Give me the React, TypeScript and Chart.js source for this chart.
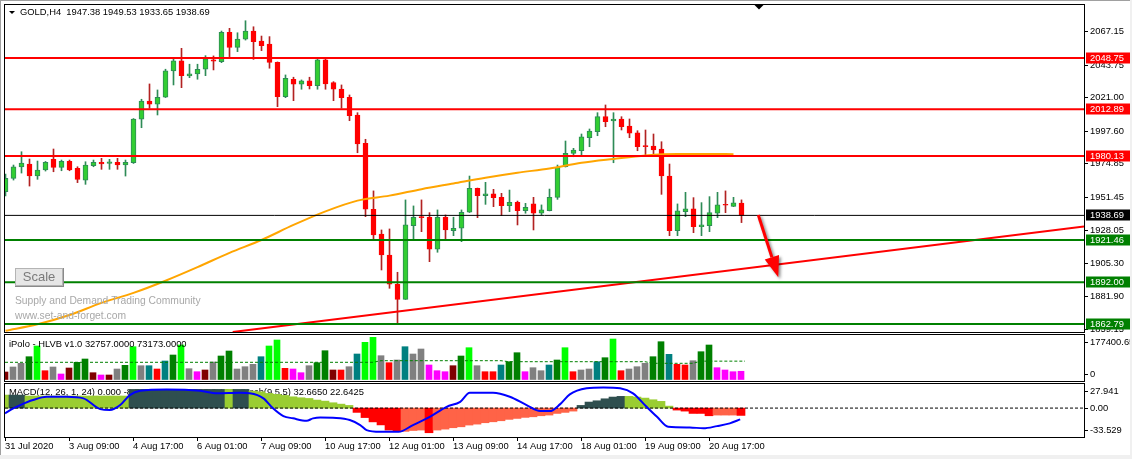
import { useEffect, useRef } from 'react';
import { Chart, registerables } from 'chart.js';

Chart.register(...registerables);

const FONT = '"Liberation Sans", Arial, sans-serif';
const AXIS_FONT = { family: FONT, size: 9.4 };

// ---------------- data ----------------
const symbolTitle = 'GOLD,H4  1947.38 1949.53 1933.65 1938.69';
const volumeTitle = 'iPolo - HLVB v1.0 32757.0000 73173.0000';
const macdTitle = 'MACD(12, 26, 1, 24) 0.000 -8.503 -8.503 -8.503 3.120  Stoch(9,5,5) 32.6650 22.6425';
const watermark1 = 'Supply and Demand Trading Community';
const watermark2 = 'www.set-and-forget.com';

const timeLabels = ['31 Jul 2020', '3 Aug 09:00', '4 Aug 17:00', '6 Aug 01:00', '7 Aug 09:00', '10 Aug 17:00',
  '12 Aug 01:00', '13 Aug 09:00', '14 Aug 17:00', '18 Aug 01:00', '19 Aug 09:00', '20 Aug 17:00'];
const barsPerTimeLabel = 8;

const open = [1955.3, 1964.6, 1972.5, 1974.6, 1966.2, 1970.4, 1977.9, 1972.3, 1976.5, 1971.6,
  1963.4, 1973.4, 1975.8, 1975.1, 1975.8, 1973.9, 1975.5, 2005.9, 2018.7, 2016.4,
  2021.3, 2039.7, 2046.7, 2036.2, 2037.6, 2040.9, 2047.5, 2046.2, 2066.7, 2056.2,
  2062.0, 2067.6, 2060.6, 2058.5, 2045.7, 2021.7, 2033.9, 2030.4, 2032.7, 2029.4,
  2047.4, 2031.5, 2027.1, 2021.3, 2008.9, 1989.1, 1943.0, 1925.7, 1911.0, 1890.5,
  1880.0, 1931.5, 1937.5, 1937.4, 1915.0, 1937.4, 1928.0, 1929.7, 1940.9, 1957.6,
  1952.5, 1953.7, 1951.3, 1945.5, 1947.8, 1942.0, 1946.7, 1940.2, 1942.0, 1951.3,
  1972.7, 1982.1, 1983.9, 1993.0, 1997.2, 2007.7, 2004.7, 2006.1, 2001.2, 1996.5,
  1987.2, 1987.2, 1985.1, 1966.2, 1928.0, 1941.3, 1943.2, 1930.8, 1931.5, 1940.2,
  1946.2, 1945.0, 1947.38];
const high = [1967.6, 1973.9, 1983.2, 1978.1, 1976.7, 1976.4, 1985.1, 1977.4, 1977.4, 1972.7,
  1976.2, 1977.4, 1978.6, 1977.9, 1978.6, 1977.4, 2006.4, 2019.9, 2030.6, 2026.4,
  2040.9, 2047.8, 2055.5, 2044.4, 2044.4, 2050.4, 2050.2, 2067.6, 2069.5, 2066.4,
  2074.8, 2070.6, 2064.1, 2063.7, 2046.0, 2036.9, 2035.3, 2033.4, 2035.3, 2048.1,
  2048.5, 2032.2, 2029.9, 2022.9, 2010.5, 1991.9, 1955.8, 1928.5, 1929.2, 1898.9,
  1949.5, 1945.3, 1949.5, 1940.6, 1942.5, 1939.0, 1937.4, 1942.5, 1966.2, 1957.8,
  1961.8, 1956.9, 1954.1, 1956.4, 1948.7, 1947.1, 1951.3, 1946.0, 1957.1, 1973.9,
  1990.7, 1985.6, 1995.6, 1999.1, 2010.5, 2015.9, 2010.5, 2007.7, 2006.1, 1997.9,
  1998.4, 1995.6, 1990.2, 1974.6, 1946.7, 1954.8, 1951.1, 1947.6, 1951.8, 1954.8,
  1955.8, 1951.3, 1949.53];
const low = [1952.3, 1963.4, 1968.3, 1959.2, 1963.9, 1969.7, 1969.2, 1969.9, 1969.9, 1961.6,
  1960.4, 1972.7, 1970.9, 1970.9, 1970.9, 1966.2, 1975.0, 2000.0, 2013.6, 2008.9,
  2021.1, 2029.9, 2028.0, 2035.0, 2033.9, 2036.4, 2040.4, 2045.5, 2049.7, 2053.2,
  2061.3, 2047.8, 2053.9, 2041.6, 2014.7, 2021.0, 2018.9, 2026.9, 2027.1, 2026.9,
  2026.9, 2018.9, 2013.6, 2004.9, 1982.5, 1937.8, 1921.5, 1900.5, 1887.7, 1863.2,
  1879.9, 1922.2, 1927.3, 1906.3, 1912.9, 1922.2, 1924.5, 1920.3, 1940.7, 1937.1,
  1946.4, 1944.8, 1938.5, 1941.3, 1932.0, 1940.2, 1928.5, 1939.0, 1941.8, 1949.9,
  1972.5, 1979.7, 1980.9, 1986.7, 1994.4, 2000.7, 1975.5, 1998.4, 1993.0, 1983.9,
  1980.9, 1981.6, 1953.4, 1924.5, 1924.5, 1937.8, 1926.6, 1924.5, 1927.3, 1937.1,
  1940.6, 1944.8, 1933.65];
const close = [1964.6, 1972.7, 1975.3, 1966.2, 1970.4, 1975.8, 1972.3, 1976.5, 1970.4, 1963.9,
  1973.9, 1975.8, 1974.6, 1976.2, 1973.9, 1975.8, 2006.1, 2018.7, 2016.4, 2021.3,
  2039.7, 2046.7, 2036.4, 2037.6, 2040.9, 2048.1, 2046.6, 2066.7, 2056.2, 2062.0,
  2067.6, 2060.2, 2057.4, 2045.7, 2021.7, 2034.6, 2030.4, 2032.7, 2029.4, 2047.4,
  2030.6, 2026.9, 2021.0, 2008.4, 1988.6, 1943.0, 1925.0, 1911.0, 1890.5, 1880.0,
  1932.0, 1937.4, 1937.1, 1915.0, 1937.4, 1928.5, 1929.7, 1940.9, 1957.6, 1952.5,
  1953.7, 1951.1, 1945.5, 1947.8, 1942.0, 1944.4, 1940.2, 1942.5, 1951.3, 1972.3,
  1982.1, 1984.4, 1993.7, 1997.7, 2007.7, 2004.2, 2006.1, 2000.7, 1996.1, 1986.7,
  1986.8, 1984.4, 1966.2, 1928.0, 1941.8, 1943.2, 1930.8, 1932.0, 1940.6, 1946.0,
  1945.8, 1947.4, 1938.69];

// moving average, read every 4 bars
const maBars = [0, 4, 8, 12, 16, 20, 24, 28, 32, 36, 40, 44, 48, 52, 56, 60, 64, 68, 72, 76, 80, 84, 88, 91];
const maValues = [1858.0, 1862.5, 1869.0, 1877.5, 1884.5, 1893.0, 1902.5, 1912.5, 1921.5, 1932.0, 1941.5, 1949.0,
  1952.5, 1957.0, 1961.0, 1965.0, 1968.5, 1971.5, 1975.5, 1978.2, 1980.6, 1981.6, 1981.6, 1981.5];

const priceTicks = [2067.15, 2043.75, 2021.0, 1997.6, 1974.85, 1951.45, 1928.05, 1905.3, 1881.9, 1859.15];
const resistanceLevels = [2048.75, 2012.89, 1980.13];
const supportLevels = [1921.46, 1892.0, 1862.79];
const bidPrice = 1938.69;
const trendBars = [28.4, 134.81];
const trendValues = [1857.14, 1930.85];
const arrowBars = [94.1, 96.6];
const arrowValues = [1938.96, 1895.4];

const volume = [29900, 49830, 64580, 90890, 133550, 35080, 49830, 21930, 45850, 68570,
  81720, 27110, 17940, 17940, 41860, 56610, 130760, 55010, 55010, 41860,
  73750, 97670, 137530, 43050, 31090, 37870, 69760, 93680, 113610, 41860,
  51030, 60590, 90890, 133550, 157470, 44650, 41860, 27110, 55010, 66970,
  114810, 37870, 37870, 51030, 101660, 148300, 168230, 94880, 66970, 77740,
  130760, 101660, 121590, 57800, 35080, 31090, 55010, 93680, 126770, 55010,
  31090, 31090, 57800, 70960, 106840, 31090, 47040, 35080, 57800, 77740,
  126770, 31090, 37870, 41860, 70960, 86910, 161450, 35080, 41860, 51030,
  64580, 90890, 150690, 100460, 60590, 57800, 74950, 110820, 137530, 47040,
  37870, 31090, 32757];
// volume class: g gray, G green, L lime, r red, m magenta, d maroon, t teal
const volumeClass = ('dggGLrgmdG' + 'GdmdgGLgtr' + 'tGLgmdgGGg' + 'ggtLLrmmgG' + 'GdrgtLLgrg' +
  'tggmmmdGLg' + 'rrtGGmggtG' + 'LrggtGLrgg' + 'gGGtrrgGGm' + 'mmm').split('');
const volumeAvgBars = [0, 46, 47, 62, 63, 80, 81, 86, 87, 92.5];
const volumeAvgValues = [68570, 68570, 74950, 74950, 70960, 70960, 64580, 64580, 73173, 73173];
const volumeMax = 177400.65;
const volumeAxisLabels = [{ value: 177400.65, text: '177400.65' }, { value: 0, text: '0' }];

const macdHist = [15.1, 15.1, 15.1, 14.0, 14.0, 14.0, 14.0, 14.0, 14.0, 14.0,
  14.0, 14.0, 14.0, 14.0, 14.0, 14.0, 21.7, 21.7, 21.7, 21.7,
  21.7, 21.7, 21.7, 21.7, 21.7, 21.7, 21.7, 21.7, 21.7, 21.7,
  21.7, 19.7, 18.9, 17.0, 15.9, 14.7, 13.1, 12.0, 11.2, 9.3,
  8.1, 6.2, 4.6, 3.1, -5.0, -11.0, -16.0, -19.5, -25.5, -26.7,
  -27.0, -26.0, -25.5, -28.6, -25.5, -24.4, -22.8, -21.7, -19.7, -18.6,
  -17.0, -15.9, -14.7, -13.1, -12.0, -10.8, -10.1, -8.9, -8.1, -6.2,
  -5.0, -3.5, 3.1, 7.0, 8.5, 10.8, 12.8, 13.6, 13.6, 12.8,
  11.6, 9.7, 7.8, 2.3, -2.3, -3.5, -6.2, -6.2, -8.9, -8.1,
  -8.1, -8.1, -8.5];
// histogram class: Y yellow-green, D dark slate, R red, T tomato
const macdClass = ('YDDYYYYYYY' + 'YYYYYYDDDD' + 'DDDDDDDDYD' + 'DYYYYYYYYY' + 'YYYYRRRRRR' +
  'TTTRTTTTTT' + 'TTTTTTTTTT' + 'TTDDDDDDYY' + 'YYYYRRRRRT' + 'TTR').split('');
const stochBars = [0, 1.04, 1.9, 3.5, 5.2, 7.7, 9.8, 11.9, 13.1, 14.4, 15.6, 16.9, 20.2, 24.4, 26.5, 29.4, 30.6,
  32.3, 33.5, 34.8, 36, 37.7, 38.5, 39.4, 41, 43.1, 44.4, 45.2, 46.9, 49.2, 51, 53.1, 55.2, 56.9, 58.1, 61,
  63.1, 65.2, 66.9, 68.1, 69.4, 70.6, 72.7, 74.8, 76.9, 78.5, 80.2, 81.5, 82.9, 85.6, 87.3, 89, 90.6, 91.9];
const stochValues = [-6.1, -0.3, 3.5, 9.3, 13.1, 13.1, 11.3, -1.2, -2.3, 3.5, 15.1, 20.1, 21.7, 20.1, 17.1, 17.7, 17.1,
  11.3, -0.3, -9.3, -11.9, -14.7, -11.9, -10.8, -11.3, -13.9, -19.7, -25.5, -27.5, -27.5, -19.7, -10.1, 1.5, 7.3, 17.7, 17.7,
  13.1, 3.5, -3.5, -3.5, 4.6, 15.9, 22.9, 24.0, 22.9, 17.1, 1.5, -10.1, -21.7, -22.4, -23.5, -20.9, -17.7, -13.1];
const macdMin = -33.529;
const macdMax = 27.941;
const macdAxisLabels = [{ value: 27.941, text: '27.941' }, { value: 0, text: '0.00' }, { value: -33.529, text: '-33.529' }];

// ---------------- styles ----------------
const BULL_FILL = '#32cd32';
const BULL_EDGE = '#2e8b57';
const BEAR_FILL = '#ff0000';
const BEAR_WICK = '#b22222';
const VOL_COLORS: Record<string, string> = {
  g: '#808080', G: '#008000', L: '#00ff00', r: '#ff0000', m: '#ff00ff', d: '#800000', t: '#008080',
};
const HIST_COLORS: Record<string, string> = { Y: '#9acd32', D: '#2f4f4f', R: '#ff0000', T: '#ff6347' };

const W = 1132;
const AXIS_W = 48;
const MAIN_X_MIN = -0.0625;
const SUB_X_MIN = 0;
const X_SPAN = 134.875;
const MAIN_Y_MIN = 1857.14;
const MAIN_Y_MAX = 2085.81;

const barIdx = open.map((_, i) => i);

const framePlugin = {
  id: 'frame',
  afterDraw(chart: any) {
    const { ctx, chartArea: a } = chart;
    ctx.save();
    ctx.strokeStyle = '#000';
    ctx.lineWidth = 1;
    ctx.strokeRect(a.left - 0.5, a.top - 0.5, a.right - a.left + 1, a.bottom - a.top + 1);
    ctx.restore();
  },
};

function edgeLabelsPlugin(labels: { value: number; text: string }[]) {
  return {
    id: 'edgeLabels',
    afterDraw(chart: any) {
      const { ctx, chartArea: a } = chart;
      const ys = chart.scales.y;
      ctx.save();
      ctx.font = `9.4px ${FONT}`;
      ctx.fillStyle = '#000';
      ctx.strokeStyle = '#000';
      ctx.lineWidth = 1;
      ctx.textBaseline = 'middle';
      labels.forEach((l) => {
        let y = ys.getPixelForValue(l.value);
        y = Math.min(Math.max(y, a.top + 6.7), a.bottom - 7);
        const ty = Math.round(y) + 0.5;
        ctx.beginPath();
        ctx.moveTo(a.right, ty);
        ctx.lineTo(a.right + 4, ty);
        ctx.stroke();
        ctx.fillText(l.text, a.right + 6, y + 0.5);
      });
      ctx.restore();
    },
  };
}

function titlePlugin(text: string, x: number, y: number, before: boolean) {
  const draw = (chart: any) => {
    const { ctx } = chart;
    ctx.save();
    ctx.font = `9.4px ${FONT}`;
    ctx.fillStyle = '#000';
    ctx.textBaseline = 'middle';
    ctx.fillText(text, x, y);
    ctx.restore();
  };
  return before ? { id: 'paneTitle', beforeDatasetsDraw: draw } : { id: 'paneTitle', afterDatasetsDraw: draw };
}

const mainDecorPlugin = {
  id: 'mainDecor',
  afterDatasetsDraw(chart: any) {
    const { ctx } = chart;
    const xs = chart.scales.x;
    const ys = chart.scales.y;
    // arrow
    const x0 = xs.getPixelForValue(arrowBars[0]);
    const y0 = ys.getPixelForValue(arrowValues[0]);
    const x1 = xs.getPixelForValue(arrowBars[1]);
    const y1 = ys.getPixelForValue(arrowValues[1]);
    const ang = Math.atan2(y1 - y0, x1 - x0);
    const headLen = 21;
    const headW = 7.5;
    const bx = x1 - headLen * Math.cos(ang);
    const by = y1 - headLen * Math.sin(ang);
    ctx.save();
    ctx.shadowColor = 'rgba(0,0,0,0.45)';
    ctx.shadowBlur = 3;
    ctx.shadowOffsetX = 2;
    ctx.shadowOffsetY = 2;
    ctx.strokeStyle = '#ff0000';
    ctx.fillStyle = '#ff0000';
    ctx.lineWidth = 3;
    ctx.beginPath();
    ctx.moveTo(x0, y0);
    ctx.lineTo(bx, by);
    ctx.stroke();
    ctx.beginPath();
    ctx.moveTo(x1, y1);
    ctx.lineTo(bx + headW * Math.sin(ang), by - headW * Math.cos(ang));
    ctx.lineTo(bx - headW * Math.sin(ang), by + headW * Math.cos(ang));
    ctx.closePath();
    ctx.fill();
    ctx.restore();

    // watermark
    ctx.save();
    ctx.font = `10.3px ${FONT}`;
    ctx.fillStyle = '#a8a8a8';
    ctx.textBaseline = 'middle';
    ctx.fillText(watermark1, 15, 300.7);
    ctx.fillText(watermark2, 15, 315.7);
    // Scale button
    ctx.fillStyle = '#e6e6e6';
    ctx.fillRect(15, 268, 49, 19);
    ctx.fillStyle = '#f4f4f4';
    ctx.fillRect(15, 268, 49, 1);
    ctx.fillRect(15, 268, 1, 19);
    ctx.fillStyle = '#8a8a8a';
    ctx.fillRect(15, 285, 49, 2);
    ctx.fillRect(62, 268, 2, 19);
    ctx.strokeStyle = '#b4b4b4';
    ctx.lineWidth = 1;
    ctx.strokeRect(15.5, 268.5, 47, 17);
    ctx.font = `13px ${FONT}`;
    ctx.fillStyle = '#7a7a7a';
    ctx.textAlign = 'center';
    ctx.fillText('Scale', 39, 277.5);
    ctx.restore();

    // chart title
    ctx.save();
    ctx.fillStyle = '#000';
    ctx.beginPath();
    ctx.moveTo(9, 11);
    ctx.lineTo(15, 11);
    ctx.lineTo(12, 14);
    ctx.closePath();
    ctx.fill();
    ctx.font = `9.4px ${FONT}`;
    ctx.textBaseline = 'middle';
    ctx.fillText(symbolTitle, 20, 12.5);
    // chart shift marker
    ctx.beginPath();
    ctx.moveTo(754.5, 5);
    ctx.lineTo(763.5, 5);
    ctx.lineTo(759, 9.5);
    ctx.closePath();
    ctx.fill();
    ctx.restore();
  },
  afterDraw(chart: any) {
    const { ctx, chartArea: a } = chart;
    const ys = chart.scales.y;
    const boxes = [
      ...resistanceLevels.map((v) => ({ v, c: '#ff0000' })),
      { v: bidPrice, c: '#000000' },
      ...supportLevels.map((v) => ({ v, c: '#008000' })),
    ];
    ctx.save();
    ctx.font = `9.4px ${FONT}`;
    ctx.textBaseline = 'middle';
    boxes.forEach((b) => {
      const y = ys.getPixelForValue(b.v);
      ctx.fillStyle = b.c;
      ctx.fillRect(a.right + 2, Math.round(y) - 5.5, 45, 11);
      ctx.fillStyle = '#ffffff';
      ctx.fillText(b.v.toFixed(2), a.right + 6, y + 0.5);
    });
    ctx.restore();
  },
};

function hLine(value: number, color: string, width: number, order: number) {
  return {
    type: 'line' as const,
    data: [{ x: MAIN_X_MIN, y: value }, { x: MAIN_X_MIN + X_SPAN, y: value }],
    borderColor: color,
    borderWidth: width,
    pointRadius: 0,
    clip: 0,
    order,
  };
}

const baseOptions = {
  animation: false as const,
  responsive: false,
  maintainAspectRatio: false,
  devicePixelRatio: 1,
  events: [] as any[],
  plugins: { legend: { display: false }, tooltip: { enabled: false }, title: { display: false } },
};

function App() {
  const mainRef = useRef<HTMLCanvasElement>(null);
  const volRef = useRef<HTMLCanvasElement>(null);
  const macdRef = useRef<HTMLCanvasElement>(null);

  useEffect(() => {
    const charts: Chart[] = [];
    // ---------- main price pane ----------
    charts.push(new Chart(mainRef.current as HTMLCanvasElement, {
      type: 'bar',
      data: {
        datasets: [
          ...resistanceLevels.map((v) => hLine(v, '#ff0000', 2, 1)),
          hLine(bidPrice, '#000000', 1, 1),
          ...supportLevels.map((v) => hLine(v, '#008000', 2, 1)),
          {
            type: 'line',
            data: trendBars.map((x, k) => ({ x, y: trendValues[k] })),
            borderColor: '#ff0000', borderWidth: 2, pointRadius: 0, clip: 0, order: 2,
          },
          {
            type: 'line',
            data: maBars.map((x, k) => ({ x, y: maValues[k] })),
            borderColor: '#ffa500', borderWidth: 2, pointRadius: 0, clip: 0, order: 3,
            cubicInterpolationMode: 'monotone',
          },
          {
            type: 'bar',
            data: barIdx.map((i) => ({ x: i, y: [low[i], high[i]] })),
            backgroundColor: barIdx.map((i) => (close[i] >= open[i] ? BULL_EDGE : BEAR_WICK)),
            barThickness: 1, grouped: false, borderWidth: 0, clip: 0, order: 6,
          },
          {
            type: 'bar',
            data: barIdx.map((i) => ({ x: i, y: [open[i], close[i]] })),
            backgroundColor: barIdx.map((i) => (close[i] >= open[i] ? BULL_FILL : BEAR_FILL)),
            borderColor: barIdx.map((i) => (close[i] >= open[i] ? BULL_EDGE : BEAR_FILL)),
            borderWidth: 1, borderSkipped: false, barThickness: 5, minBarLength: 1,
            grouped: false, clip: 0, order: 5,
          },
        ] as any,
      },
      options: {
        ...baseOptions,
        layout: { padding: { left: 5, top: 5, right: 0, bottom: 1 } },
        scales: {
          x: { type: 'linear', min: MAIN_X_MIN, max: MAIN_X_MIN + X_SPAN, display: false, offset: false },
          y: {
            type: 'linear', position: 'right', min: MAIN_Y_MIN, max: MAIN_Y_MAX, bounds: 'data', beginAtZero: false,
            afterBuildTicks: (s: any) => { s.ticks = priceTicks.map((value) => ({ value })); },
            afterFit: (s: any) => { s.width = AXIS_W; s.paddingTop = 0; s.paddingBottom = 0; },
            ticks: { autoSkip: false, padding: 2, color: '#000', font: AXIS_FONT, callback: (v: any) => Number(v).toFixed(2) },
            grid: { drawOnChartArea: false, drawTicks: true, tickLength: 4, color: '#000' },
            border: { display: false },
          },
        },
      } as any,
      plugins: [framePlugin, mainDecorPlugin],
    }));

    // ---------- volume pane ----------
    charts.push(new Chart(volRef.current as HTMLCanvasElement, {
      type: 'bar',
      data: {
        datasets: [
          {
            type: 'line',
            data: volumeAvgBars.map((x, k) => ({ x, y: volumeAvgValues[k] })),
            borderColor: '#008000', borderWidth: 1, borderDash: [3, 2], pointRadius: 0, clip: 0, order: 1,
          },
          {
            type: 'bar',
            data: barIdx.map((i) => ({ x: i, y: volume[i] })),
            backgroundColor: barIdx.map((i) => VOL_COLORS[volumeClass[i]]),
            barThickness: 6, borderWidth: 0, clip: 0, order: 2,
          },
        ] as any,
      },
      options: {
        ...baseOptions,
        layout: { padding: { left: 5, top: 2, right: AXIS_W, bottom: 1 } },
        scales: {
          x: { type: 'linear', min: SUB_X_MIN, max: SUB_X_MIN + X_SPAN, display: false, offset: false },
          y: { type: 'linear', min: -5980, max: volumeMax, display: false, bounds: 'data', beginAtZero: false },
        },
      } as any,
      plugins: [framePlugin, edgeLabelsPlugin(volumeAxisLabels), titlePlugin(volumeTitle, 9, 11, false)],
    }));

    // ---------- MACD pane ----------
    charts.push(new Chart(macdRef.current as HTMLCanvasElement, {
      type: 'bar',
      data: {
        datasets: [
          {
            type: 'line',
            data: [{ x: SUB_X_MIN, y: 0 }, { x: SUB_X_MIN + X_SPAN, y: 0 }],
            borderColor: '#000', borderWidth: 1, borderDash: [3, 2], pointRadius: 0, clip: 0, order: 2,
          },
          {
            type: 'line',
            data: stochBars.map((x, k) => ({ x, y: stochValues[k] })),
            borderColor: '#0000ff', borderWidth: 2, pointRadius: 0, clip: 0, order: 1,
            cubicInterpolationMode: 'monotone',
          },
          {
            type: 'bar',
            data: barIdx.map((i) => ({ x: i, y: macdHist[i] })),
            backgroundColor: barIdx.map((i) => HIST_COLORS[macdClass[i]]),
            barThickness: 8, borderWidth: 0, clip: 0, order: 3,
          },
        ] as any,
      },
      options: {
        ...baseOptions,
        layout: { padding: { left: 5, top: 2, right: AXIS_W, bottom: 0 } },
        scales: {
          x: {
            type: 'linear', min: SUB_X_MIN, max: SUB_X_MIN + X_SPAN, offset: false, position: 'bottom',
            afterBuildTicks: (s: any) => { s.ticks = timeLabels.map((_, k) => ({ value: k * barsPerTimeLabel })); },
            afterFit: (s: any) => { s.height = 22; s.paddingLeft = 0; s.paddingRight = 0; },
            ticks: {
              autoSkip: false, maxRotation: 0, minRotation: 0, align: 'start', padding: 0, color: '#000', font: AXIS_FONT,
              callback: (_v: any, idx: number) => timeLabels[idx],
            },
            grid: { drawOnChartArea: false, drawTicks: true, tickLength: 4, color: '#000', offset: false },
            border: { display: false },
          },
          y: { type: 'linear', min: macdMin, max: macdMax, display: false, bounds: 'data', beginAtZero: false },
        },
      } as any,
      plugins: [framePlugin, edgeLabelsPlugin(macdAxisLabels), titlePlugin(macdTitle, 9, 10.3, true)],
    }));

    return () => charts.forEach((c) => c.destroy());
  }, []);

  const abs = (top: number, height: number): React.CSSProperties => ({
    position: 'absolute', left: 0, top, width: W, height, display: 'block',
  });

  return (
    <div style={{ position: 'fixed', left: 0, top: 0, width: W, height: 459, background: '#fff', overflow: 'hidden' }}>
      <canvas ref={mainRef} width={W} height={333} style={abs(0, 333)} />
      <canvas ref={volRef} width={W} height={49} style={abs(333, 49)} />
      <canvas ref={macdRef} width={W} height={77} style={abs(382, 77)} />
      <div style={{ position: 'absolute', left: 0, top: 0, width: W, height: 1, background: '#a0a0a0' }} />
      <div style={{ position: 'absolute', left: 0, top: 0, width: 1, height: 459, background: '#a0a0a0' }} />
      <div style={{ position: 'absolute', left: 0, top: 455, width: W, height: 4, background: '#f0f0f0' }} />
      <div style={{ position: 'absolute', left: 1130, top: 0, width: 2, height: 459, background: '#f0f0f0' }} />
    </div>
  );
}

export default App;
